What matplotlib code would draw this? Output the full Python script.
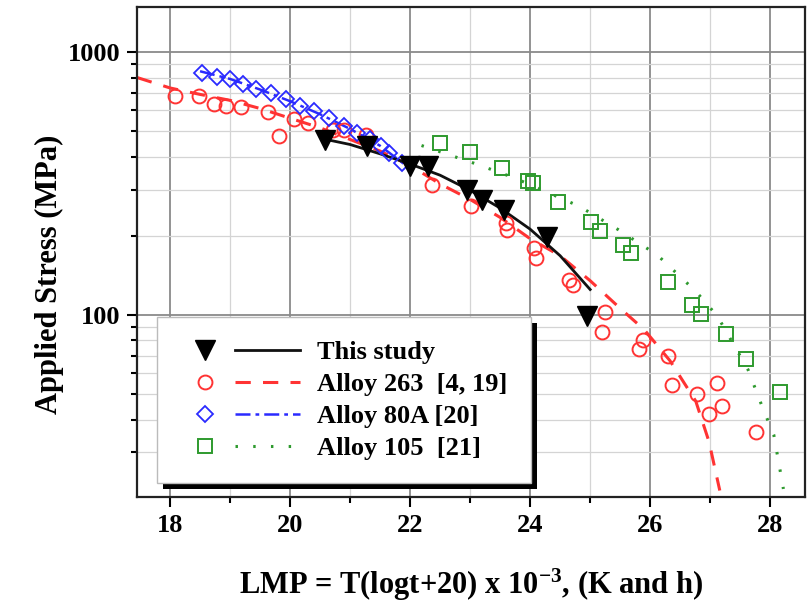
import matplotlib
matplotlib.use("Agg")
import matplotlib.pyplot as plt
from matplotlib.lines import Line2D
from matplotlib.legend_handler import HandlerBase
from matplotlib.patches import Rectangle
from matplotlib.ticker import FixedLocator, NullFormatter, FixedFormatter

# --- data (LMP x1e-3, stress in MPa) ---
study_x = [20.58, 21.28, 22.0, 22.30, 22.94, 23.20, 23.56, 24.28, 24.95]
study_y = [464, 438, 367, 367, 298, 274, 250, 198, 99]
study_fit_x = [20.6, 21.0, 21.5, 22.0, 22.5, 23.0, 23.5, 24.0, 24.5, 25.0]
study_fit_y = [465, 445, 410, 375, 340, 298, 255, 212, 168, 125]

a263_x = [18.09, 18.49, 18.74, 18.94, 19.19, 19.63, 19.82, 20.06, 20.30, 20.72,
          20.90, 21.26, 22.37, 23.02, 23.60, 23.62, 24.06, 24.10, 24.64, 24.71,
          25.24, 25.19, 25.88, 25.81, 26.29, 26.37, 26.78, 27.11, 26.98, 27.19, 27.77]
a263_y = [683, 680, 632, 622, 620, 590, 479, 554, 538, 505,
          505, 485, 313, 259, 224, 211, 180, 164, 136, 130,
          103, 86, 80, 74, 70, 54, 50, 55, 42, 45, 36]
a263_fit_x = [17.45, 18.0, 18.5, 19.0, 19.5, 20.0, 20.5, 21.0, 21.5, 22.0, 22.5,
              23.0, 23.5, 24.0, 24.5, 25.0, 25.5, 25.9, 26.33, 26.76, 26.98, 27.16]
a263_fit_y = [800, 730, 690, 655, 610, 560, 515, 465, 420, 370, 315,
              275, 235, 195, 168, 135, 106, 88, 67, 47, 33, 21.5]

a80_x = [18.53, 18.78, 19.0, 19.22, 19.44, 19.68, 19.93, 20.16, 20.40, 20.65,
         20.90, 21.12, 21.33, 21.51, 21.65, 21.87]
a80_y = [830, 805, 787, 754, 725, 700, 660, 623, 596, 562,
         523, 493, 465, 438, 413, 379]
a80_fit_x = [18.5, 19.0, 19.5, 20.0, 20.5, 21.0, 21.5, 21.9]
a80_fit_y = [845, 790, 720, 650, 580, 510, 440, 375]

a105_x = [22.50, 22.99, 23.53, 23.96, 24.04, 24.46, 25.02, 25.17, 25.54, 25.68,
          26.29, 26.69, 26.85, 27.27, 27.59, 28.17]
a105_y = [449, 416, 362, 322, 318, 270, 225, 208, 185, 172,
          134, 109, 101, 85, 68, 51]
a105_fit_x = [22.19, 23.06, 23.74, 24.82, 25.47, 26.12, 26.76, 27.12, 27.63, 27.88, 28.06, 28.22]
a105_fit_y = [441, 378, 332, 259, 211, 169, 123, 99, 62, 44, 35, 21.8]

labels = ["This study", "Alloy 263  [4, 19]", "Alloy 80A [20]", "Alloy 105  [21]"]

plt.rcParams['font.family'] = ['Liberation Serif', 'DejaVu Serif']
plt.rcParams['font.weight'] = 'bold'
plt.rcParams['axes.labelweight'] = 'bold'
plt.rcParams['mathtext.fontset'] = 'custom'
plt.rcParams['mathtext.rm'] = 'Liberation Serif:bold'
plt.rcParams['mathtext.it'] = 'Liberation Serif:bold'
plt.rcParams['mathtext.bf'] = 'Liberation Serif:bold'

red = '#ff3333'
blue = '#2a2aff'
green = '#2e9a2e'


class MarkerThenLine(HandlerBase):
    # marker on the left, line sample on the right (Origin style legend)
    def create_artists(self, legend, orig_handle, xdescent, ydescent,
                       width, height, fontsize, trans):
        mk, ln = orig_handle
        y = height / 2 - ydescent
        m = Line2D([0.21 * width - xdescent], [y])
        m.update_from(mk)
        m.set_linestyle('none')
        l = Line2D([0.46 * width - xdescent, width - xdescent], [y, y])
        l.update_from(ln)
        l.set_marker('')
        m.set_transform(trans)
        l.set_transform(trans)
        return [l, m]


fig = plt.figure(figsize=(8.08, 6.04), dpi=100)
ax = fig.add_axes([0.1696, 0.177, 0.8267, 0.811])

ax.set_yscale('log')
ax.set_xlim(17.45, 28.58)
ax.set_ylim(20.3, 1480)

# grid
ax.xaxis.set_major_locator(FixedLocator([18, 20, 22, 24, 26, 28]))
ax.xaxis.set_minor_locator(FixedLocator([19, 21, 23, 25, 27]))
ax.yaxis.set_major_locator(FixedLocator([100, 1000]))
ax.yaxis.set_major_formatter(FixedFormatter(['100', '1000']))
ax.yaxis.set_minor_locator(FixedLocator([30, 40, 50, 60, 70, 80, 90,
                                         200, 300, 400, 500, 600, 700, 800, 900]))
ax.yaxis.set_minor_formatter(NullFormatter())
ax.grid(True, which='major', color='#8a8a8a', lw=1.3, zorder=0)
ax.grid(True, which='minor', color='#d4d4d4', lw=0.9, zorder=0)
ax.set_axisbelow(True)

ax.tick_params(which='both', direction='out', labelsize=19, width=1.5,
               top=False, right=False)
ax.tick_params(which='major', length=7, pad=5)
ax.tick_params(which='minor', length=4)
for s in ax.spines.values():
    s.set_linewidth(1.6)
    s.set_color('#222222')

# fitted curves
ax.plot(a263_fit_x, a263_fit_y, color=red, lw=2.2, dashes=(5, 4), zorder=2)
ax.plot(a80_fit_x, a80_fit_y, color=blue, lw=1.8, dashes=(6, 2, 1.5, 2), zorder=2)
ax.plot(a105_fit_x, a105_fit_y, color=green, lw=2.2, dashes=(0.8, 5), zorder=2)
ax.plot(study_fit_x, study_fit_y, color='#111111', lw=2.0, zorder=3)

# data points
ax.plot(a263_x, a263_y, 'o', ms=10, mfc='none', mec=red, mew=1.4, zorder=4)
ax.plot(a80_x, a80_y, 'D', ms=8, mfc='none', mec=blue, mew=1.3, zorder=4)
ax.plot(a105_x, a105_y, 's', ms=9.5, mfc='none', mec=green, mew=1.4, zorder=4)
ax.plot(study_x, study_y, 'v', ms=14, color='black', zorder=5)

ax.set_xlabel(r'LMP = T(logt+20) x 10$^{-3}$, (K and h)', fontsize=22, fontweight='bold')
ax.set_ylabel('Applied Stress (MPa)', fontsize=22, fontweight='bold')
ax.xaxis.set_label_coords(0.5, -0.142)
ax.yaxis.set_label_coords(-0.109, 0.455)

handles = [
    (Line2D([], [], ls='none', marker='v', ms=14, color='black'),
     Line2D([], [], color='#111111', lw=2.0)),
    (Line2D([], [], ls='none', marker='o', ms=10, mfc='none', mec=red, mew=1.4),
     Line2D([], [], color=red, lw=2.2, dashes=(5, 4))),
    (Line2D([], [], ls='none', marker='D', ms=8, mfc='none', mec=blue, mew=1.3),
     Line2D([], [], color=blue, lw=1.8, dashes=(6, 2, 1.5, 2))),
    (Line2D([], [], ls='none', marker='s', ms=9.5, mfc='none', mec=green, mew=1.4),
     Line2D([], [], color=green, lw=2.2, dashes=(0.8, 5))),
]
leg = ax.legend(handles, labels, handler_map={tuple: MarkerThenLine()},
                loc='lower left', bbox_to_anchor=(0.03, 0.028), borderaxespad=0,
                prop={'weight': 'bold', 'size': 19},
                handlelength=4.55, handletextpad=0.65, borderpad=0.87, labelspacing=0.33,
                fancybox=False, framealpha=1, edgecolor='#bbbbbb')
leg.get_frame().set_linewidth(1.0)
leg.set_zorder(10)

# black drop shadow behind the legend box
fig.canvas.draw()
bb = leg.get_window_extent()
shadow = Rectangle((bb.x0 + 6, bb.y0 - 6), bb.width, bb.height, transform=None,
                   facecolor='black', edgecolor='none', zorder=9, clip_on=False)
ax.add_artist(shadow)

fig.savefig('out.png', dpi=100)
